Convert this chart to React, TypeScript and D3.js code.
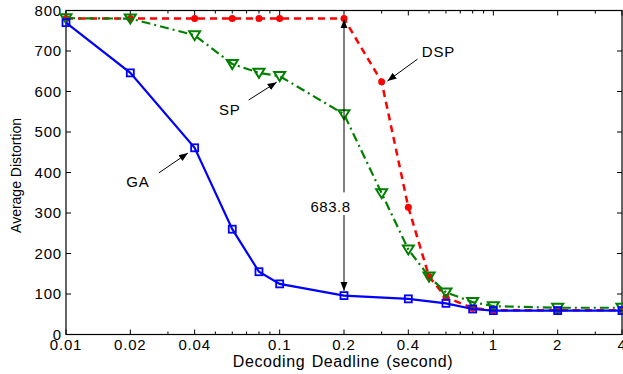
import React, { useEffect, useRef } from 'react';
import * as d3 from 'd3';

// data
const gaX = [0.01, 0.02, 0.04, 0.06, 0.08, 0.1, 0.2, 0.4, 0.6, 0.8, 1, 2, 4];
const gaY = [770, 646, 461, 260, 155, 125, 96, 88, 77, 63, 59, 59, 59];
const spX = [0.01, 0.02, 0.04, 0.06, 0.08, 0.1, 0.2, 0.3, 0.4, 0.5, 0.6, 0.8, 1, 2, 4];
const spY = [781, 780, 739, 668, 646, 638, 544, 349, 210, 143, 104, 80, 70, 66, 66];
const dspX = [0.01, 0.02, 0.04, 0.06, 0.08, 0.1, 0.2, 0.3, 0.4, 0.5, 0.6, 0.8, 1, 2, 4];
const dspY = [780, 780, 780, 780, 780, 780, 780, 624, 314, 143, 92, 65, 60, 60, 60];

const xTicks = [0.01, 0.02, 0.04, 0.1, 0.2, 0.4, 1, 2, 4];
const xTickLabels = ['0.01', '0.02', '0.04', '0.1', '0.2', '0.4', '1', '2', '4'];
const yTicks = [0, 100, 200, 300, 400, 500, 600, 700, 800];

// annotations in data units
const labels = [
    {text: 'DSP', x: 0.553, y: 697, from: [0.4416, 680], to: [0.3196, 626]},
    {text: 'SP', x: 0.0584, y: 554, from: [0.0716, 579], to: [0.0968, 623]},
    {text: 'GA', x: 0.0217, y: 376, from: [0.0272, 399], to: [0.0372, 448]},
];
const gapX = 0.2;
const gapTop = 778;
const gapBottom = 108;
const gapLabel = '683.8';

const width = 623;
const height = 374;
const font = 'Liberation Sans, Arial, Helvetica, sans-serif';

function App() {
    const svgRef = useRef(null);

    useEffect(() => {
        const svg = d3.select(svgRef.current);
        svg.selectAll('*').remove();

        const left = 66, right = 622, top = 10.5, bottom = 334.5;

        const x = d3.scaleLog().domain([0.01, 4]).range([left, right]);
        const y = d3.scaleLinear().domain([0, 800]).range([bottom, top]);

        svg.append('rect')
            .attr('width', width)
            .attr('height', height)
            .attr('fill', 'white');

        const defs = svg.append('defs');
        defs.append('marker')
            .attr('id', 'arr')
            .attr('viewBox', '0 0 10 10')
            .attr('refX', 10)
            .attr('refY', 5)
            .attr('markerWidth', 9)
            .attr('markerHeight', 9)
            .attr('markerUnits', 'userSpaceOnUse')
            .attr('orient', 'auto')
            .append('path')
            .attr('d', 'M0,1 L10,5 L0,9 z')
            .attr('fill', 'black');

        // minor ticks for log axis
        const minor = [];
        [0.01, 0.1, 1].forEach(dec => {
            for (let k = 2; k <= 9; k++) {
                const v = dec * k;
                if (v <= 4 && !xTicks.some(t => Math.abs(t - v) < 1e-9)) minor.push(v);
            }
        });

        const tickG = svg.append('g').attr('stroke', 'black').attr('stroke-width', 1);
        xTicks.forEach(t => {
            tickG.append('line').attr('x1', x(t)).attr('x2', x(t)).attr('y1', bottom).attr('y2', bottom - 5);
            tickG.append('line').attr('x1', x(t)).attr('x2', x(t)).attr('y1', top).attr('y2', top + 5);
        });
        minor.forEach(t => {
            tickG.append('line').attr('x1', x(t)).attr('x2', x(t)).attr('y1', bottom).attr('y2', bottom - 3);
            tickG.append('line').attr('x1', x(t)).attr('x2', x(t)).attr('y1', top).attr('y2', top + 3);
        });
        yTicks.forEach(t => {
            tickG.append('line').attr('x1', left).attr('x2', left + 5).attr('y1', y(t)).attr('y2', y(t));
            tickG.append('line').attr('x1', right).attr('x2', right - 5).attr('y1', y(t)).attr('y2', y(t));
        });

        svg.append('rect')
            .attr('x', left)
            .attr('y', top)
            .attr('width', right - left)
            .attr('height', bottom - top)
            .attr('fill', 'none')
            .attr('stroke', 'black')
            .attr('stroke-width', 1.2);

        // tick labels
        svg.append('g').selectAll('text')
            .data(xTicks)
            .join('text')
            .attr('x', d => x(d))
            .attr('y', bottom + 15)
            .attr('text-anchor', 'middle')
            .attr('font-family', font)
            .attr('font-size', 15)
            .attr('letter-spacing', 0.8)
            .text((d, i) => xTickLabels[i]);

        svg.append('g').selectAll('text')
            .data(yTicks)
            .join('text')
            .attr('x', left - 4)
            .attr('y', d => y(d) + 5)
            .attr('text-anchor', 'end')
            .attr('font-family', font)
            .attr('font-size', 15)
            .attr('letter-spacing', 0.8)
            .text(d => d);

        svg.append('text')
            .attr('x', 343)
            .attr('y', 367)
            .attr('text-anchor', 'middle')
            .attr('font-family', font)
            .attr('font-size', 16)
            .attr('letter-spacing', 0.6)
            .attr('word-spacing', 1.5)
            .text('Decoding Deadline (second)');

        svg.append('text')
            .attr('transform', `translate(21, ${(top + bottom) / 2 + 3}) rotate(-90)`)
            .attr('text-anchor', 'middle')
            .attr('font-family', font)
            .attr('font-size', 14)
            .text('Average Distortion');

        // series
        const line = d3.line().x(d => x(d[0])).y(d => y(d[1]));
        const ga = gaX.map((v, i) => [v, gaY[i]]);
        const sp = spX.map((v, i) => [v, spY[i]]);
        const dsp = dspX.map((v, i) => [v, dspY[i]]);

        svg.append('path')
            .datum(dsp)
            .attr('d', line)
            .attr('fill', 'none')
            .attr('stroke', '#ff0000')
            .attr('stroke-width', 2.5)
            .attr('stroke-dasharray', '7 5');
        svg.append('g').selectAll('circle')
            .data(dsp)
            .join('circle')
            .attr('cx', d => x(d[0]))
            .attr('cy', d => y(d[1]))
            .attr('r', 3.5)
            .attr('fill', '#ff0000');

        svg.append('path')
            .datum(sp)
            .attr('d', line)
            .attr('fill', 'none')
            .attr('stroke', '#008000')
            .attr('stroke-width', 2.2)
            .attr('stroke-dasharray', '9 4 2 4');
        svg.append('g').selectAll('path')
            .data(sp)
            .join('path')
            .attr('d', d => {
                const cx = x(d[0]), cy = y(d[1]);
                return `M${cx - 5.5},${cy - 4} L${cx + 5.5},${cy - 4} L${cx},${cy + 5} Z`;
            })
            .attr('fill', 'none')
            .attr('stroke', '#008000')
            .attr('stroke-width', 2);

        svg.append('path')
            .datum(ga)
            .attr('d', line)
            .attr('fill', 'none')
            .attr('stroke', '#0000ff')
            .attr('stroke-width', 2.2);
        svg.append('g').selectAll('rect')
            .data(ga)
            .join('rect')
            .attr('x', d => x(d[0]) - 3.5)
            .attr('y', d => y(d[1]) - 3.5)
            .attr('width', 7)
            .attr('height', 7)
            .attr('fill', 'none')
            .attr('stroke', '#0000ff')
            .attr('stroke-width', 1.8);

        // gap annotation
        const labelY = 315;
        svg.append('line')
            .attr('x1', x(gapX)).attr('x2', x(gapX))
            .attr('y1', y(labelY + 36)).attr('y2', y(gapTop))
            .attr('stroke', 'black').attr('stroke-width', 1)
            .attr('marker-end', 'url(#arr)');
        svg.append('line')
            .attr('x1', x(gapX)).attr('x2', x(gapX))
            .attr('y1', y(labelY - 20)).attr('y2', y(gapBottom))
            .attr('stroke', 'black').attr('stroke-width', 1)
            .attr('marker-end', 'url(#arr)');
        svg.append('text')
            .attr('x', x(0.173))
            .attr('y', y(labelY) + 5)
            .attr('text-anchor', 'middle')
            .attr('font-family', font)
            .attr('font-size', 15)
            .attr('letter-spacing', 0.5)
            .text(gapLabel);

        labels.forEach(l => {
            svg.append('line')
                .attr('x1', x(l.from[0])).attr('y1', y(l.from[1]))
                .attr('x2', x(l.to[0])).attr('y2', y(l.to[1]))
                .attr('stroke', 'black').attr('stroke-width', 1)
                .attr('marker-end', 'url(#arr)');
            svg.append('text')
                .attr('x', x(l.x))
                .attr('y', y(l.y) + 5)
                .attr('text-anchor', 'middle')
                .attr('font-family', font)
                .attr('font-size', 15)
                .attr('letter-spacing', 0.8)
                .text(l.text);
        });
    }, []);

    return (
        <svg ref={svgRef} width={width} height={height}
             style={{position: 'absolute', left: 0, top: 0, display: 'block'}}/>
    );
}

export default App;
